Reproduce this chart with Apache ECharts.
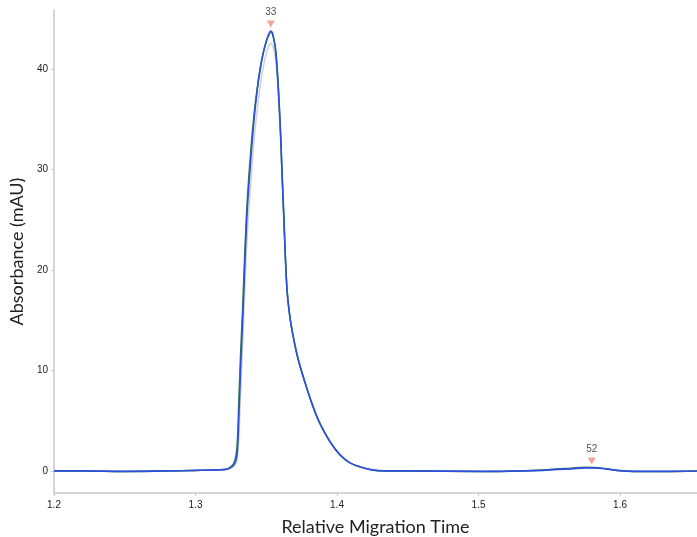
<!DOCTYPE html>
<html>
<head>
<meta charset="utf-8">
<script src="https://cdn.jsdelivr.net/npm/echarts@6/dist/echarts.min.js"></script>
<style>
  html, body { margin: 0; padding: 0; background: #fff; }
  #chart { width: 697px; height: 537px; }
</style>
</head>
<body>
<div id="chart"></div>
<script>
  // migration time (x) shared by all three traces
  var timeX = [1.200, 1.220, 1.250, 1.280, 1.300, 1.315, 1.321, 1.3245, 1.3275, 1.3293,
    1.3305, 1.3318, 1.3333, 1.3362, 1.339, 1.3413, 1.3435, 1.3456, 1.348, 1.3503,
    1.3518, 1.3532, 1.3548, 1.3569, 1.3597, 1.3611, 1.3625, 1.3636, 1.3647, 1.3661,
    1.3675, 1.3696, 1.3724, 1.3774, 1.3823, 1.388, 1.3951, 1.4021, 1.4092, 1.4163,
    1.4247, 1.4339, 1.450, 1.500, 1.530, 1.545, 1.555, 1.565, 1.575, 1.582,
    1.590, 1.598, 1.610, 1.630, 1.655];

  var blueY = [0, 0, -0.05, 0, 0.05, 0.1, 0.15, 0.3, 0.7, 1.6,
    5, 10, 15, 25, 31, 34.9, 37.8, 39.9, 41.7, 42.9,
    43.5, 43.8, 43.4, 41.6, 34.9, 29.9, 25.0, 21.0, 18.0, 16.0,
    14.6, 13.0, 11.2, 8.8, 6.7, 4.7, 2.9, 1.6, 0.8, 0.4,
    0.1, 0, 0, -0.05, 0, 0.05, 0.15, 0.2, 0.3, 0.3,
    0.2, 0.05, -0.05, -0.05, 0];

  var greenY = [0, 0, -0.05, 0, 0.05, 0.1, 0.15, 0.35, 0.9, 2.4,
    6.5, 11.5, 16.2, 26, 31.8, 35.4, 38, 40, 41.7, 42.9,
    43.4, 43.7, 43.3, 41.5, 34.9, 29.9, 25.0, 21.0, 18.0, 16.0,
    14.6, 13.0, 11.2, 8.8, 6.7, 4.7, 2.9, 1.6, 0.8, 0.4,
    0.1, 0, 0, -0.05, 0, 0.08, 0.2, 0.27, 0.36, 0.35,
    0.22, 0.05, -0.05, -0.05, 0];

  var greyY = [0, 0, -0.05, 0, 0.05, 0.1, 0.12, 0.25, 0.5, 1.0,
    3, 7.5, 12.5, 22.5, 28.5, 32.8, 35.8, 38.2, 40.3, 41.7,
    42.3, 42.6, 42.2, 40.6, 34.3, 29.5, 24.8, 21.0, 18.0, 16.0,
    14.6, 13.0, 11.2, 8.8, 6.7, 4.7, 2.9, 1.6, 0.8, 0.4,
    0.1, 0, 0, -0.05, 0, 0.05, 0.15, 0.2, 0.28, 0.28,
    0.2, 0.05, -0.05, -0.05, 0];

  // peak annotations
  var peakX = [1.3532, 1.580];
  var peakY = [43.8, 0.3];
  var peakLabels = ['33', '52'];

  var xTicks = [1.2, 1.3, 1.4, 1.5, 1.6];
  var yTicks = [0, 10, 20, 30, 40];

  function pairs(xs, ys) {
    var out = [];
    for (var i = 0; i < xs.length; i++) out.push([xs[i], ys[i]]);
    return out;
  }

  var peaks = [];
  for (var i = 0; i < peakX.length; i++) {
    peaks.push({ value: [peakX[i], peakY[i]], name: peakLabels[i] });
  }

  var myChart = echarts.init(document.getElementById('chart'));

  var lineBase = {
    type: 'line',
    showSymbol: false,
    smooth: 0.4,
    animation: false
  };

  var option = {
    animation: false,
    grid: { left: 54, right: 0, top: 10, bottom: 44, outerBoundsMode: 'none', containLabel: false },
    xAxis: {
      type: 'value',
      min: 1.2,
      max: 1.6544,
      name: 'Relative Migration Time',
      nameLocation: 'middle',
      nameGap: 25,
      nameTextStyle: { fontFamily: 'Lato', fontSize: 18, color: '#222' },
      axisLine: { show: true, onZero: false, lineStyle: { color: '#c8c8c8', width: 1.5 } },
      axisTick: { show: true, length: 3, customValues: xTicks, lineStyle: { color: '#c8c8c8' } },
      axisLabel: {
        customValues: xTicks,
        margin: 7,
        fontFamily: 'Liberation Sans',
        fontSize: 10,
        color: '#222',
        formatter: function (v) { return v.toFixed(1); }
      },
      splitLine: { show: false }
    },
    yAxis: {
      type: 'value',
      min: -2.2,
      max: 45.9,
      name: 'Absorbance (mAU)',
      nameLocation: 'middle',
      nameGap: 28,
      nameTextStyle: { fontFamily: 'Lato', fontSize: 18, color: '#222' },
      axisLine: { show: true, onZero: false, lineStyle: { color: '#c8c8c8', width: 1.5 } },
      axisTick: { show: true, length: 3, customValues: yTicks, lineStyle: { color: '#c8c8c8' } },
      axisLabel: {
        customValues: yTicks,
        margin: 6,
        fontFamily: 'Liberation Sans',
        fontSize: 10,
        color: '#222'
      },
      splitLine: { show: false }
    },
    series: [
      Object.assign({}, lineBase, {
        name: 'grey', data: pairs(timeX, greyY),
        lineStyle: { color: '#d0d0d0', width: 1.5 }, itemStyle: { color: '#d0d0d0' }
      }),
      Object.assign({}, lineBase, {
        name: 'green', data: pairs(timeX, greenY),
        lineStyle: { color: '#2f8a3a', width: 1.5 }, itemStyle: { color: '#2f8a3a' }
      }),
      Object.assign({}, lineBase, {
        name: 'blue', data: pairs(timeX, blueY),
        lineStyle: { color: '#2d4ee0', width: 1.6 }, itemStyle: { color: '#2d4ee0' }
      }),
      {
        type: 'scatter',
        data: peaks,
        symbol: 'triangle',
        symbolRotate: 180,
        symbolSize: [8, 7],
        symbolOffset: [0, -7],
        itemStyle: { color: '#f28b82' },
        label: {
          show: true,
          position: 'top',
          distance: 3,
          formatter: '{b}',
          fontFamily: 'Liberation Sans',
          fontSize: 10,
          color: '#222'
        },
        z: 5
      }
    ]
  };

  myChart.setOption(option);

  window.addEventListener('resize', function () {
    myChart.resize();
  });
</script>
</body>
</html>
